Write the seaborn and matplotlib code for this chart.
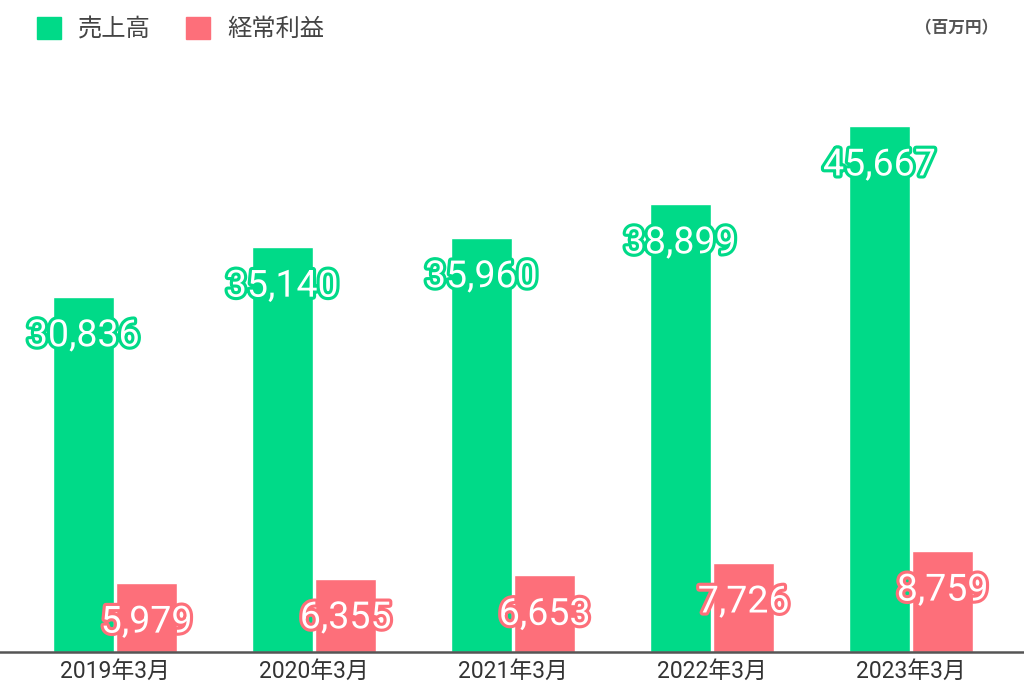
import matplotlib
matplotlib.use("Agg")
import matplotlib.pyplot as plt
import matplotlib.patheffects as pe
from matplotlib.patches import Patch
import seaborn as sns
import pandas as pd

categories = ["2019年3月", "2020年3月", "2021年3月", "2022年3月", "2023年3月"]
sales = [30836, 35140, 35960, 38899, 45667]
profit = [5979, 6355, 6653, 7726, 8759]
series_names = ["売上高", "経常利益"]
unit_label = "（百万円）"

GREEN = "#00DA88"
RED = "#FD6F7A"

df = pd.DataFrame({
    "cat": categories * 2,
    "series": [series_names[0]] * len(categories) + [series_names[1]] * len(categories),
    "value": sales + profit,
})

sns.set_theme(style="white")
plt.rcParams["font.family"] = ["Noto Sans CJK JP", "DejaVu Sans"]

fig = plt.figure(figsize=(10.24, 6.99), dpi=100)
ax = fig.add_axes([0, 1 - 652 / 699, 1, 576 / 699])

sns.barplot(data=df, x="cat", y="value", hue="series", order=categories,
            hue_order=series_names, palette=[GREEN, RED], width=0.636, gap=0.03,
            ax=ax, legend=False, saturation=1)

ax.set_xlim(-115 / 199, (1024 - 115) / 199)
ax.set_ylim(0, 50000)
ax.set_xlabel("")
ax.set_ylabel("")
ax.set_yticks([])
for s in ["top", "left", "right"]:
    ax.spines[s].set_visible(False)
ax.spines["bottom"].set_color("#555555")
ax.spines["bottom"].set_linewidth(1.8)
ax.tick_params(axis="x", length=0, pad=6, labelsize=16.5, labelcolor="#333333")
for lbl in ax.get_xticklabels():
    lbl.set_family(["Roboto", "Noto Sans CJK JP"])

colors = [GREEN, RED]
for cont, col in zip(ax.containers, colors):
    for bar in cont:
        h = bar.get_height()
        xc = bar.get_x() + bar.get_width() / 2
        ax.annotate(f"{h:,.0f}", (xc, h), xytext=(0, -39), textcoords="offset pixels",
                    ha="center", va="center", fontsize=27, color="white",
                    family=["Roboto", "DejaVu Sans"],
                    path_effects=[pe.withStroke(linewidth=4.5, foreground=col)])

handles = [Patch(facecolor=GREEN, edgecolor=GREEN), Patch(facecolor=RED, edgecolor=RED)]
fig.legend(handles, series_names, loc="center left", bbox_to_anchor=(0.036, 0.958),
           ncol=2, frameon=False, fontsize=17.5, labelcolor="#444444",
           handlelength=1.0, handleheight=1.0, handletextpad=0.7, columnspacing=1.44,
           borderpad=0, borderaxespad=0)

fig.text(0.975, 0.96, unit_label, ha="right", va="center", fontsize=12,
         color="#555555", fontweight="bold")

fig.savefig("out.png", dpi=100)
